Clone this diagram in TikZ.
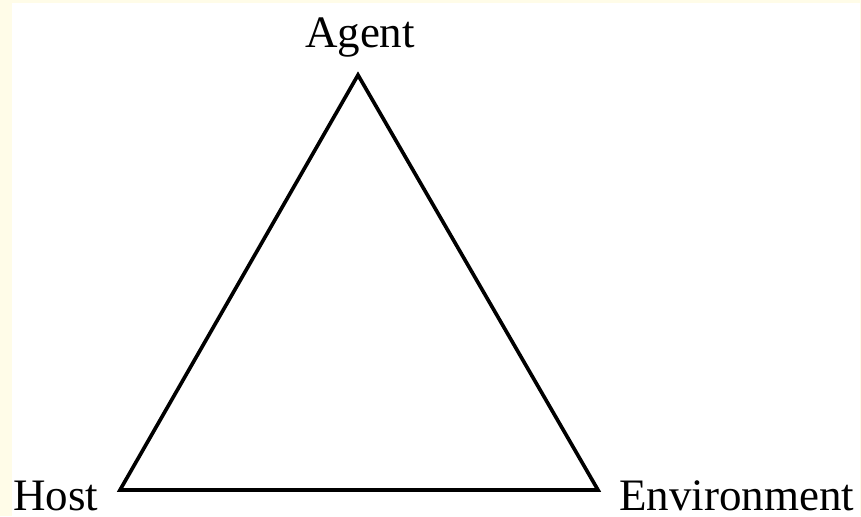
\documentclass[tikz,border=0pt]{standalone}
\usepackage{fontspec}
\setmainfont{Liberation Serif}
\usepackage{tikz}
\usetikzlibrary{positioning}
\definecolor{cream}{HTML}{FFFCE8}
\tikzset{
  lbl/.style ={font=\fontsize{32}{38}\selectfont, inner sep=0pt},
  side/.style={draw, line width=2.6pt, line join=miter},
}

\begin{document}
\begin{tikzpicture}[x=0.025cm, y=-0.025cm]
\useasboundingbox (0,0) rectangle (861,516);
\fill[cream] (0,0) rectangle (861,516);
\fill[white] (12,3) rectangle (860,516);
% vertices
\coordinate (agent) at (358,75);
\coordinate (host)  at (120,490);
\coordinate (env)   at (598,490);
\draw[side] (agent) -- (host) -- (env) -- cycle;
% labels
\node[lbl, anchor=base]      (agentlbl) at (360,47)  {Agent};
\node[lbl, anchor=base west] (hostlbl)  at (13,510)  {Host};
\node[lbl, anchor=base west] (envlbl)   at (619,510) {Environment};
\end{tikzpicture}
\end{document}
